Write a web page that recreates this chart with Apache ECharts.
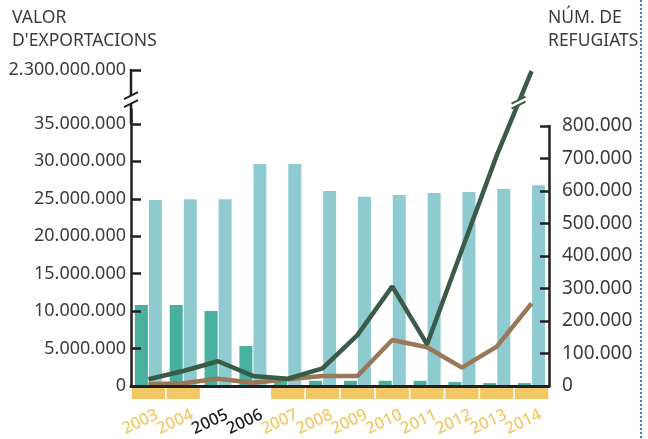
<!DOCTYPE html>
<html><head><meta charset="utf-8">
<script src="https://cdn.jsdelivr.net/npm/echarts@6/dist/echarts.min.js"></script>
<style>html,body{margin:0;padding:0;background:#fff}#c{width:648px;height:439px}</style>
</head><body><div id="c"></div>
<script>
const years = ['2003','2004','2005','2006','2007','2008','2009','2010','2011','2012','2013','2014'];
const boxedYears = ['2003','2004','2007','2008','2009','2010','2011','2012','2013','2014'];
const exportsGreen = [0.9e6, 2.0e6, 3.3e6, 1.35e6, 0.97e6, 2.36e6, 6.8e6, 13.3e6, 5.57e6, 18.2e6, 30.8e6, 2236372854];
const exportsBrown = [0.23e6, 0.36e6, 0.97e6, 0.44e6, 0.9e6, 1.33e6, 1.33e6, 6.14e6, 5.17e6, 2.45e6, 5.25e6, 11.04e6];
const refugeesDark = [249000, 249000, 231000, 123000, 16000, 16000, 16000, 16000, 16000, 12000, 9000, 9000];
const refugeesLight = [572000, 575000, 575000, 683000, 683000, 600000, 582000, 588000, 594000, 597000, 606000, 618000];
const leftTicks = [0, 5e6, 10e6, 15e6, 20e6, 25e6, 30e6, 35e6, 2.3e9];

const fmt = v => String(Math.round(v)).replace(/\B(?=(\d{3})+(?!\d))/g, '.');
const FONT = 'Noto Sans';
const AX = '#231f20';
const TXT = '#3c3c3c';
const YEL = '#f2c866';
const GREEN = '#3b5b49';
const BROWN = '#9a7756';

const chart = echarts.init(document.getElementById('c'));
const L = 131, R = 99, B = 53;
const option = {
  animation: false,
  backgroundColor: '#fff',
  textStyle: { fontFamily: FONT },
  grid: [
    { left: L, right: R, top: 70, bottom: B },
    { left: L, right: R, top: 126, bottom: B },
    { left: L, right: R, top: 388, height: 11 },
    { left: L + 9, right: R - 9, top: 70, bottom: B }
  ],
  xAxis: [
    { type: 'category', gridIndex: 0, data: years, boundaryGap: true,
      axisLine: { lineStyle: { color: AX, width: 3 } },
      axisTick: { inside: true, length: 6, lineStyle: { color: AX, width: 2 } },
      axisLabel: { show: false },
      z: 5 },
    { type: 'category', gridIndex: 1, data: years, show: false },
    { type: 'category', gridIndex: 2, data: years, show: false },
    { type: 'category', gridIndex: 3, data: years.map(y => ({ value: y, textStyle: { color: boxedYears.includes(y) ? YEL : '#1a1a1a' } })),
      boundaryGap: true,
      axisLine: { show: false }, axisTick: { show: false },
      axisLabel: { rotate: 25, margin: 32, fontSize: 16.5, fontWeight: 500, fontFamily: FONT, interval: 0 } }
  ],
  yAxis: [
    { type: 'value', gridIndex: 0, min: 0, max: 2.3e9, position: 'left',
      breaks: [{ start: 37e6, end: 2.3e9, gap: 5.2e6 }],
      breakArea: { show: false },
      axisLine: { show: true, lineStyle: { color: AX, width: 2.5 } },
      axisTick: { show: true, inside: true, length: 10, customValues: leftTicks, lineStyle: { color: AX, width: 2.5 } },
      axisLabel: { customValues: leftTicks, formatter: fmt, fontSize: 18, color: TXT, margin: 5, fontFamily: FONT },
      splitLine: { show: false }, z: 5 },
    { type: 'value', gridIndex: 1, min: 0, max: 800000, interval: 100000, position: 'right',
      axisLine: { show: true, lineStyle: { color: AX, width: 2.5 } },
      axisTick: { show: true, inside: true, length: 9, lineStyle: { color: AX, width: 2.5 } },
      axisLabel: { formatter: fmt, fontSize: 19, color: TXT, margin: 13, fontFamily: FONT },
      splitLine: { show: false }, z: 5 },
    { type: 'value', gridIndex: 2, min: 0, max: 1, show: false },
    { type: 'value', gridIndex: 3, min: 0, max: 1, show: false }
  ],
  series: [
    { type: 'bar', xAxisIndex: 1, yAxisIndex: 1, data: refugeesDark, barWidth: 13, barGap: '8%', itemStyle: { color: '#47b09e' } },
    { type: 'bar', xAxisIndex: 1, yAxisIndex: 1, data: refugeesLight, barWidth: 13, barGap: '8%', itemStyle: { color: '#8ecbd1' } },
    { type: 'bar', xAxisIndex: 2, yAxisIndex: 2, data: years.map(y => boxedYears.includes(y) ? 1 : '-'), barCategoryGap: '4.5%', itemStyle: { color: YEL }, silent: true },
    { type: 'line', xAxisIndex: 0, yAxisIndex: 0, data: exportsBrown, symbol: 'none', lineStyle: { color: BROWN, width: 4.5 }, z: 3 },
    { type: 'line', xAxisIndex: 0, yAxisIndex: 0,
      data: exportsGreen.map((v, i) => i === exportsGreen.length - 1 ? { value: v, label: { show: true, position: 'left', distance: 20, formatter: p => fmt(p.value), fontSize: 17.5, color: TXT, fontFamily: FONT } } : v),
      symbol: 'none', lineStyle: { color: GREEN, width: 4.5 }, z: 4 }
  ]
};
chart.setOption(option);

const px = (ax, v) => chart.convertToPixel({ yAxisIndex: ax }, v);
const cx = i => chart.convertToPixel({ xAxisIndex: 0 }, years[i]);
const catW = cx(1) - cx(0);
const xLeft = cx(0) - catW / 2;
const yTop = px(0, 2.3e9), y35 = px(0, 35e6);
const yB = yTop + 0.55 * (y35 - yTop);
function breakMark(x, y, color, half, dy) {
  return [
    { type: 'polygon', shape: { points: [[x - half, y + dy / 2 + 3.5], [x + half, y + dy / 2 - 3.5], [x + half, y - dy / 2 - 3.5], [x - half, y - dy / 2 + 3.5]] }, style: { fill: '#fff' }, z: 10 },
    { type: 'line', shape: { x1: x - half, y1: y + dy / 2 + 3.5, x2: x + half, y2: y + dy / 2 - 3.5 }, style: { stroke: color, lineWidth: 2 }, z: 11 },
    { type: 'line', shape: { x1: x - half, y1: y - dy / 2 + 3.5, x2: x + half, y2: y - dy / 2 - 3.5 }, style: { stroke: color, lineWidth: 2 }, z: 11 }
  ];
}
const n = years.length;
const gx1 = cx(n - 2), gy1 = px(0, exportsGreen[n - 2]);
const gx2 = cx(n - 1), gy2 = px(0, exportsGreen[n - 1]);
const lineY = yB + 3;
const t = (gy1 - lineY) / (gy1 - gy2);
const lx = gx1 + t * (gx2 - gx1);
chart.setOption({
  graphic: [
    { type: 'text', left: 12, top: 7, style: { text: "VALOR\nD'EXPORTACIONS", fontSize: 17.5, lineHeight: 23, fill: TXT, fontFamily: FONT } },
    { type: 'text', left: 548, top: 7, style: { text: 'NÚM. DE\nREFUGIATS', fontSize: 17.5, lineHeight: 23, fill: TXT, fontFamily: FONT } },
    { type: 'line', shape: { x1: 641, y1: 0, x2: 641, y2: 439 }, style: { stroke: '#3a7bd5', lineWidth: 2, lineDash: [2, 2] } },
    { type: 'line', shape: { x1: xLeft, y1: yTop - 1, x2: xLeft, y2: y35 }, style: { stroke: AX, lineWidth: 2.5 }, z: 9 },
    ...breakMark(xLeft, yB, AX, 7, 8),
    ...breakMark(lx, lineY, GREEN, 7, 5)
  ]
});
</script></body></html>
